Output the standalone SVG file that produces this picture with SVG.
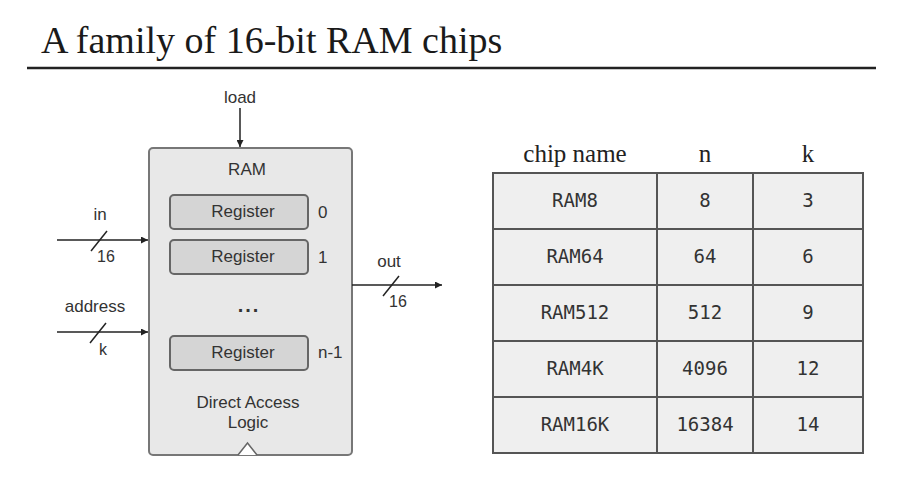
<svg xmlns="http://www.w3.org/2000/svg" width="899" height="492" viewBox="0 0 899 492">
  <defs>
    <marker id="arr" viewBox="0 0 10 10" refX="10" refY="5" markerWidth="9" markerHeight="7" markerUnits="userSpaceOnUse" orient="auto">
      <path d="M0,0 L10,5 L0,10 z" fill="#222"/>
    </marker>
  </defs>
  <style>
    .title { font-family: "Liberation Serif", "Times New Roman", serif; font-size: 38px; fill: #1a1a1a; }
    .hdr { font-family: "Liberation Serif", "Times New Roman", serif; font-size: 25px; fill: #222; text-anchor: middle; }
    .lbl { font-family: "Liberation Sans", Arial, sans-serif; font-size: 17px; fill: #333; }
    .sm { font-family: "Liberation Sans", Arial, sans-serif; font-size: 16px; fill: #333; }
    .mid { text-anchor: middle; }
    .cell { font-family: "DejaVu Sans Mono", "Liberation Mono", monospace; font-size: 19px; fill: #333; text-anchor: middle; }
    .wire { stroke: #222; stroke-width: 1.5; fill: none; }
    .ram { fill: #e8e8e8; stroke: #777; stroke-width: 2; }
    .reg { fill: #d5d5d5; stroke: #666; stroke-width: 2; }
    .tbl { stroke: #555; stroke-width: 2; fill: none; }
  </style>
  <rect width="899" height="492" fill="#ffffff"/>

  <g id="title">
    <text class="title" x="41" y="53">A family of 16-bit RAM chips</text>
    <line x1="27" y1="68" x2="876" y2="68" stroke="#222" stroke-width="2.5"/>
  </g>

  <g id="ram">
    <rect class="ram" x="149" y="148" width="203" height="307" rx="4"/>
    <text class="lbl mid" x="247" y="175">RAM</text>
    <path d="M238,455 L247.5,443 L257,455" fill="#ffffff" stroke="#666" stroke-width="1.5"/>
    <text class="lbl mid" x="248" y="408">Direct Access</text>
    <text class="lbl mid" x="248" y="428">Logic</text>
    <text x="249" y="312" text-anchor="middle" style="font-family:'Liberation Sans',Arial,sans-serif;font-size:20px;font-weight:bold;fill:#333;letter-spacing:2px">...</text>
  </g>
  <g id="reg0">
    <rect class="reg" x="170" y="195" width="138" height="34" rx="4"/>
    <text class="lbl mid" x="243" y="217">Register</text>
    <text class="lbl" x="318" y="218">0</text>
  </g>
  <g id="reg1">
    <rect class="reg" x="170" y="240" width="138" height="34" rx="4"/>
    <text class="lbl mid" x="243" y="262">Register</text>
    <text class="lbl" x="318" y="263">1</text>
  </g>
  <g id="regn">
    <rect class="reg" x="170" y="336" width="138" height="34" rx="4"/>
    <text class="lbl mid" x="243" y="358">Register</text>
    <text class="lbl" x="318" y="358">n-1</text>
  </g>

  <g id="connectors">
    <line class="wire" x1="240" y1="108" x2="240" y2="147" marker-end="url(#arr)"/>
    <line class="wire" x1="57" y1="240" x2="148" y2="240" marker-end="url(#arr)"/>
    <line class="wire" x1="91" y1="251" x2="107" y2="231"/>
    <line class="wire" x1="57" y1="332" x2="148" y2="332" marker-end="url(#arr)"/>
    <line class="wire" x1="90" y1="343" x2="106" y2="323"/>
    <line class="wire" x1="352" y1="285" x2="442" y2="285" marker-end="url(#arr)"/>
    <line class="wire" x1="383" y1="296" x2="399" y2="276"/>
  </g>

  <g id="labels">
    <text class="lbl mid" x="240" y="103">load</text>
    <text class="lbl mid" x="100" y="220">in</text>
    <text class="sm" x="97" y="262">16</text>
    <text class="lbl mid" x="95" y="312">address</text>
    <text class="sm" x="99" y="355">k</text>
    <text class="lbl mid" x="389" y="267">out</text>
    <text class="sm" x="389" y="307">16</text>
  </g>

  <g id="table">
    <text class="hdr" x="575" y="162">chip name</text>
    <text class="hdr" x="705" y="162">n</text>
    <text class="hdr" x="808" y="162">k</text>
    <rect x="493" y="173" width="370" height="280" fill="#efefef"/>
    <g class="tbl">
      <rect x="493" y="173" width="370" height="280"/>
      <line x1="657" y1="173" x2="657" y2="453"/>
      <line x1="753" y1="173" x2="753" y2="453"/>
      <line x1="493" y1="229" x2="863" y2="229"/>
      <line x1="493" y1="285" x2="863" y2="285"/>
      <line x1="493" y1="341" x2="863" y2="341"/>
      <line x1="493" y1="397" x2="863" y2="397"/>
    </g>
    <text class="cell" x="575" y="207">RAM8</text>
    <text class="cell" x="705" y="207">8</text>
    <text class="cell" x="808" y="207">3</text>
    <text class="cell" x="575" y="263">RAM64</text>
    <text class="cell" x="705" y="263">64</text>
    <text class="cell" x="808" y="263">6</text>
    <text class="cell" x="575" y="319">RAM512</text>
    <text class="cell" x="705" y="319">512</text>
    <text class="cell" x="808" y="319">9</text>
    <text class="cell" x="575" y="375">RAM4K</text>
    <text class="cell" x="705" y="375">4096</text>
    <text class="cell" x="808" y="375">12</text>
    <text class="cell" x="575" y="431">RAM16K</text>
    <text class="cell" x="705" y="431">16384</text>
    <text class="cell" x="808" y="431">14</text>
  </g>
</svg>
